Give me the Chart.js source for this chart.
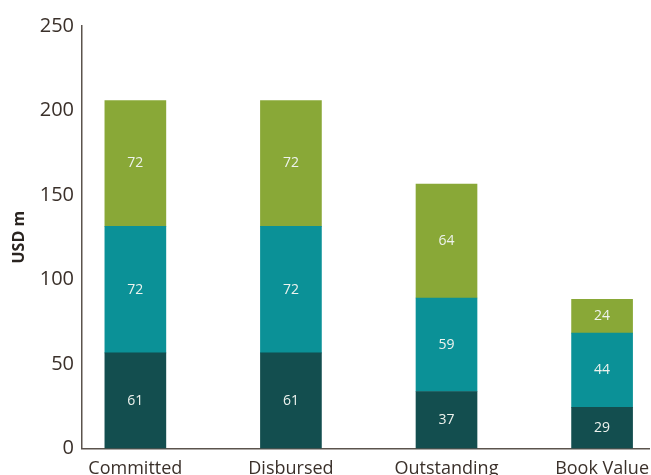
<!DOCTYPE html>
<html>
<head>
<meta charset="utf-8">
<script src="https://cdn.jsdelivr.net/npm/chart.js@4"></script>
<style>
  html, body { margin: 0; padding: 0; background: #fff; overflow: hidden; }
  #wrap { width: 651px; height: 482px; }
</style>
</head>
<body>
<div id="wrap"><canvas id="myChart"></canvas></div>
<script>
"use strict";
// categories and segment heights, plus the printed labels
const categories = ["Committed", "Disbursed", "Outstanding", "Book Value"];
const bottomValues = [56.5, 56.5, 33.7, 24.3];
const middleValues = [74.9, 74.9, 55.3, 43.9];
const topValues = [74.5, 74.5, 67.5, 20];
const bottomLabels = ["61", "61", "37", "29"];
const middleLabels = ["72", "72", "59", "44"];
const topLabels = ["72", "72", "64", "24"];
const yTicks = [0, 50, 100, 150, 200, 250];

const fontName = "'Open Sans', 'DejaVu Sans', sans-serif";
const textColor = "#3a302a";
const axisColor = "#5b534d";

function points(values) {
  return values.map((v, i) => ({ x: i, y: v }));
}

const data = {
  datasets: [
    { label: "bottom", data: points(bottomValues), backgroundColor: "#134e4f", texts: bottomLabels },
    { label: "middle", data: points(middleValues), backgroundColor: "#0b9197", texts: middleLabels },
    { label: "top", data: points(topValues), backgroundColor: "#89a837", texts: topLabels },
  ],
};

const barLabels = {
  id: "barLabels",
  afterDatasetsDraw(chart) {
    const ctx = chart.ctx;
    ctx.save();
    ctx.font = "14px " + fontName;
    ctx.fillStyle = "#eef3ee";
    ctx.textAlign = "center";
    ctx.textBaseline = "middle";
    chart.data.datasets.forEach((ds, d) => {
      chart.getDatasetMeta(d).data.forEach((bar, i) => {
        ctx.fillText(ds.texts[i], bar.x, (bar.y + bar.base) / 2);
      });
    });
    ctx.restore();
  },
};

const config = {
  type: "bar",
  data: data,
  options: {
    responsive: true,
    maintainAspectRatio: false,
    animation: false,
    barThickness: 61,
    layout: { padding: { top: 26, right: 0, left: 0, bottom: 0 } },
    scales: {
      x: {
        type: "linear",
        stacked: true,
        offset: false,
        min: -0.343,
        max: 3.304,
        grid: { display: false, offset: false },
        border: { display: true, color: axisColor, width: 1.5 },
        afterBuildTicks: (scale) => {
          scale.ticks = categories.map((c, i) => ({ value: i }));
        },
        ticks: {
          autoSkip: false,
          maxRotation: 0,
          padding: 2,
          color: textColor,
          font: { family: fontName, size: 18 },
          callback: (v) => categories[v],
        },
      },
      y: {
        stacked: true,
        min: 0,
        max: 250,
        grid: { display: false },
        border: { display: true, color: axisColor, width: 1.5 },
        afterBuildTicks: (scale) => {
          scale.ticks = yTicks.map((v) => ({ value: v }));
        },
        afterFit: (scale) => {
          scale.width = 82;
        },
        ticks: {
          padding: 0,
          color: textColor,
          font: { family: fontName, size: 20 },
        },
        title: {
          display: true,
          text: "USD m",
          color: "#2a2420",
          padding: { top: 10, bottom: 0 },
          font: { family: fontName, size: 16, weight: "bold" },
        },
      },
    },
    plugins: {
      legend: { display: false },
      tooltip: { enabled: false },
    },
  },
  plugins: [barLabels],
};

let myChart = new Chart(document.getElementById("myChart"), config);
</script>
</body>
</html>
